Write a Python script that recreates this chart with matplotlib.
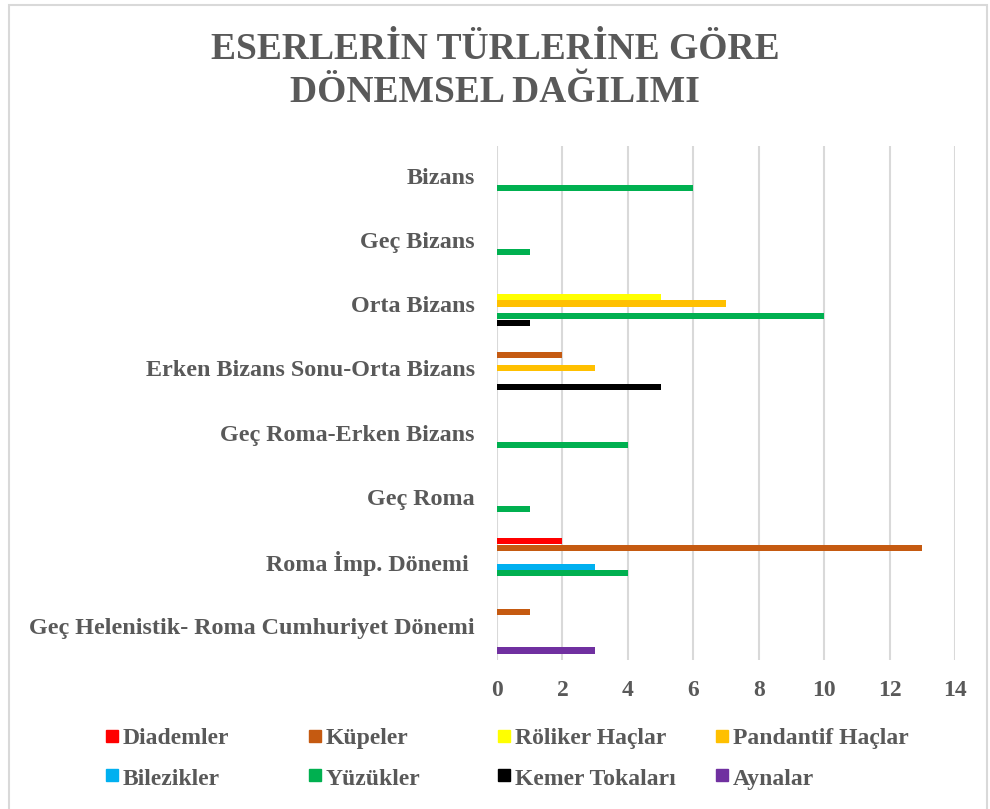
import matplotlib.pyplot as plt
from matplotlib.patches import Rectangle
import numpy as np

plt.rcParams['font.family'] = ['Liberation Serif', 'DejaVu Serif']
plt.rcParams['font.weight'] = 'bold'

# categories, bottom to top
periods = ['Geç Helenistik- Roma Cumhuriyet Dönemi', 'Roma İmp. Dönemi ', 'Geç Roma',
           'Geç Roma-Erken Bizans', 'Erken Bizans Sonu-Orta Bizans', 'Orta Bizans',
           'Geç Bizans', 'Bizans']

series = ['Diademler', 'Küpeler', 'Röliker Haçlar', 'Pandantif Haçlar',
          'Bilezikler', 'Yüzükler', 'Kemer Tokaları', 'Aynalar']
colors = ['#ff0000', '#c55a11', '#ffff00', '#ffc000',
          '#00b0f0', '#00b050', '#000000', '#7030a0']

diademler = [0, 2, 0, 0, 0, 0, 0, 0]
kupeler = [1, 13, 0, 0, 2, 0, 0, 0]
roliker = [0, 0, 0, 0, 0, 5, 0, 0]
pandantif = [0, 0, 0, 0, 3, 7, 0, 0]
bilezikler = [0, 3, 0, 0, 0, 0, 0, 0]
yuzukler = [0, 4, 1, 4, 0, 10, 1, 6]
kemer = [0, 0, 0, 0, 5, 1, 0, 0]
aynalar = [3, 0, 0, 0, 0, 0, 0, 0]
values = [diademler, kupeler, roliker, pandantif, bilezikler, yuzukler, kemer, aynalar]

grey = '#595959'
W, H = 990, 809

fig = plt.figure(figsize=(9.9, 8.09), dpi=100)
ax = fig.add_axes([0.502, 0.184, 0.4626, 0.6355])

y = np.arange(len(periods))
h = 0.1
for i, (vals, c) in enumerate(zip(values, colors)):
    # first series sits on top inside each group
    ax.barh(y + (3.5 - i) * h, vals, height=h * 0.95, color=c, zorder=3)

ax.set_xlim(0, 14)
ax.set_ylim(-0.5, len(periods) - 0.5)
ax.set_xticks(range(0, 15, 2))
ax.grid(axis='x', color='#d9d9d9', linewidth=1.5, zorder=0)
for s in ax.spines.values():
    s.set_visible(False)
ax.tick_params(length=0)
ax.tick_params(axis='x', labelsize=17, labelcolor=grey, pad=14)
ax.set_yticks(y)
ax.set_yticklabels(periods)
ax.tick_params(axis='y', labelsize=17.4, labelcolor=grey, pad=16)
for lab in ax.get_yticklabels():
    lab.set_verticalalignment('center')

fig.text(0.5, 1 - 71 / H, 'ESERLERİN TÜRLERİNE GÖRE\nDÖNEMSEL DAĞILIMI', ha='center', va='center',
         fontsize=27, color=grey, linespacing=1.27)

# legend laid out by hand, two rows of four
leg_x = [106, 309, 498, 716]
leg_box = [730, 769]
leg_base = [744, 785]
for k, (name, c) in enumerate(zip(series, colors)):
    px, row = leg_x[k % 4], k // 4
    fig.patches.append(Rectangle((px / W, 1 - (leg_box[row] + 12) / H), 12 / W, 12 / H,
                                 transform=fig.transFigure, color=c))
    fig.text((px + 17) / W, 1 - leg_base[row] / H, name, ha='left', va='baseline',
             fontsize=17, color=grey)

fig.patches.append(Rectangle((9 / W, -0.01), 978 / W, 1 - 5 / H + 0.01, transform=fig.transFigure,
                             fill=False, edgecolor='#d9d9d9', linewidth=1.5))

fig.savefig('out.png', dpi=100)
